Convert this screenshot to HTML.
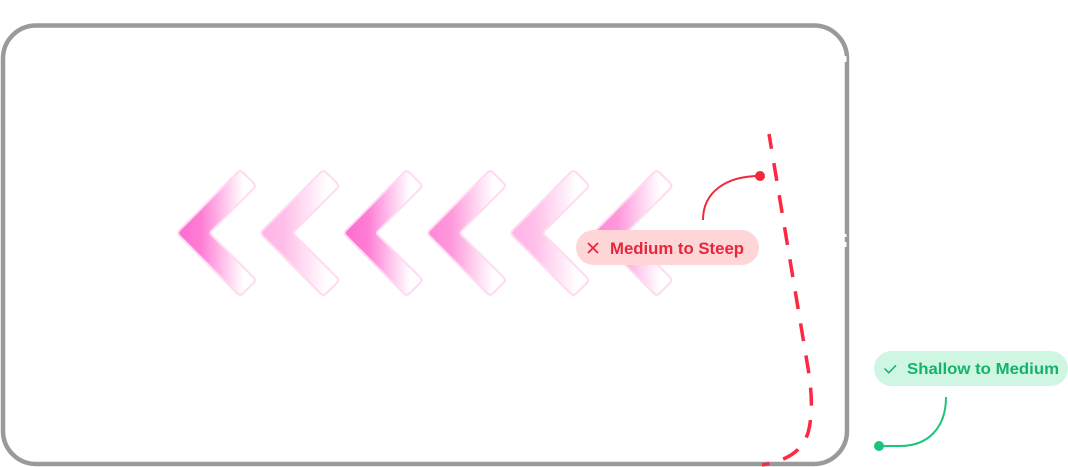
<!DOCTYPE html>
<html>
<head>
<meta charset="utf-8">
<style>
  html, body { margin: 0; padding: 0; background: #ffffff; }
  body { width: 1068px; height: 467px; overflow: hidden; }
  svg { display: block; }
  text { font-family: "Liberation Sans", "DejaVu Sans", sans-serif; font-weight: bold; }
</style>
</head>
<body>
<svg width="1068" height="467" viewBox="0 0 1068 467" xmlns="http://www.w3.org/2000/svg">
  <defs>
    <linearGradient id="gStrong" x1="0" y1="0" x2="1" y2="0">
      <stop offset="0" stop-color="#ff6ccf"/>
      <stop offset="0.3" stop-color="#ff7dd5"/>
      <stop offset="0.85" stop-color="#ffffff"/>
    </linearGradient>
    <linearGradient id="gMed" x1="0" y1="0" x2="1" y2="0">
      <stop offset="0" stop-color="#ff88d8"/>
      <stop offset="0.3" stop-color="#ff98dc"/>
      <stop offset="0.85" stop-color="#ffffff"/>
    </linearGradient>
    <linearGradient id="gLight" x1="0" y1="0" x2="1" y2="0">
      <stop offset="0" stop-color="#ffb4e5"/>
      <stop offset="0.3" stop-color="#ffbfe9"/>
      <stop offset="0.85" stop-color="#ffffff"/>
    </linearGradient>
    <path id="chev" d="M179.5 230.2 L237.3 172.5 Q240.1 169.7 242.9 172.5 L253.5 183.1 Q256.3 185.9 253.5 188.7 L211.4 230.9 Q209.3 233 211.4 235.1 L253.5 277.3 Q256.3 280.1 253.5 282.9 L242.9 293.5 Q240.1 296.3 237.3 293.5 L179.5 235.8 Q176.7 233 179.5 230.2 Z"/>
  </defs>

  <!-- Frame -->
  <rect x="3" y="25.5" width="844" height="438.5" rx="33" ry="33" fill="none" stroke="#9a9a9a" stroke-width="4.5"/>
  <!-- small white artifacts on right edge -->
  <rect x="844.5" y="56" width="2" height="6" fill="#ffffff"/>
  <rect x="844.5" y="234" width="2" height="3" fill="#ffffff"/>
  <rect x="844.5" y="242" width="2" height="5" fill="#ffffff"/>

  <!-- Chevrons -->
  <g stroke="#ffdaf1" stroke-width="2" stroke-linejoin="round">
    <use href="#chev" transform="translate(0,0)" fill="url(#gStrong)"/>
    <use href="#chev" transform="translate(83.3,0)" fill="url(#gLight)"/>
    <use href="#chev" transform="translate(166.6,0)" fill="url(#gStrong)"/>
    <use href="#chev" transform="translate(250,0)" fill="url(#gMed)"/>
    <use href="#chev" transform="translate(333.3,0)" fill="url(#gLight)"/>
    <use href="#chev" transform="translate(416.6,0)" fill="url(#gMed)"/>
  </g>

  <!-- Red dashed curve -->
  <path d="M769 134 L808 368 C812 392, 813 415, 808 433 C802 450, 790 460, 762 465"
        fill="none" stroke="#fb2a40" stroke-width="3.5" stroke-dasharray="18 14.5" stroke-dashoffset="3"/>

  <!-- Red connector -->
  <path d="M760 176 C726 176, 703 192, 703 220" fill="none" stroke="#f0283c" stroke-width="2"/>
  <circle cx="760" cy="176" r="5" fill="#f0283c"/>

  <!-- Red pill -->
  <rect x="576" y="230" width="183" height="35" rx="17.5" fill="#ffd6d8"/>
  <path d="M588 243 L598 253 M598 243 L588 253" stroke="#e6263a" stroke-width="1.8" fill="none"/>
  <text x="610" y="254" font-size="16.5" fill="#e6263a" textLength="134" lengthAdjust="spacingAndGlyphs">Medium to Steep</text>

  <!-- Green pill -->
  <rect x="874" y="351" width="194" height="35" rx="17.5" fill="#cff5e3"/>
  <path d="M884.5 368.5 L888.8 372.8 L896 365.3" stroke="#14b36c" stroke-width="1.5" fill="none"/>
  <text x="907" y="374" font-size="16" fill="#14b36c" textLength="152" lengthAdjust="spacingAndGlyphs">Shallow to Medium</text>

  <!-- Green connector -->
  <path d="M946 397 C946 428, 928 446, 900 446 L879 446" fill="none" stroke="#1ec47a" stroke-width="2"/>
  <circle cx="879" cy="446" r="5" fill="#1ec47a"/>
</svg>
</body>
</html>
